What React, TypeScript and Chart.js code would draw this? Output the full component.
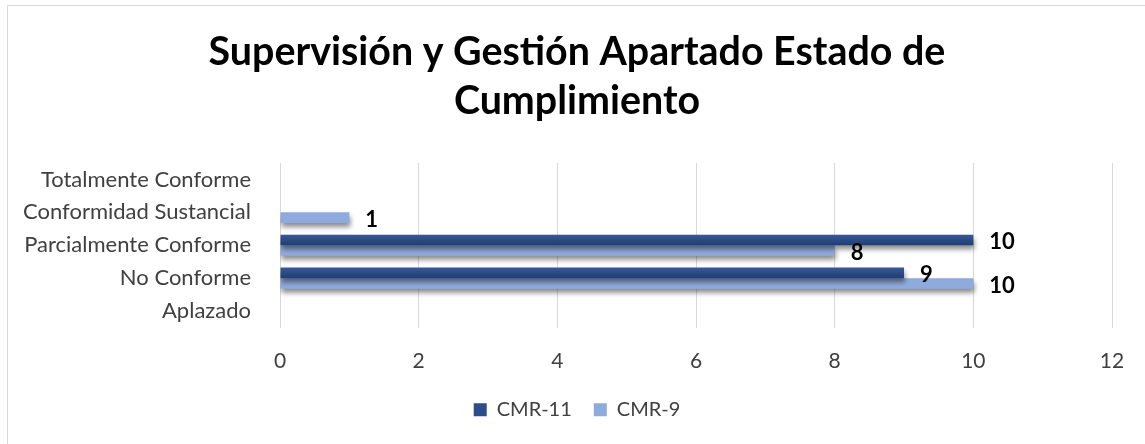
import React, { useEffect, useRef } from "react";
import Chart from "chart.js/auto";

const TITLE_LINES = ["Supervisión y Gestión Apartado Estado de", "Cumplimiento"];
const CATEGORIES = [
  "Totalmente Conforme",
  "Conformidad Sustancial",
  "Parcialmente Conforme",
  "No Conforme",
  "Aplazado",
];
const SERIES_NAMES = ["CMR-11", "CMR-9"];
const CMR11 = [0, 0, 10, 9, 0];
const CMR9 = [0, 1, 8, 10, 0];
const X_MIN = 0;
const X_MAX = 12;
const X_STEP = 2;

const DARK = "#2C4C8A";
const DARK_TOP = "#3A5A98";
const DARK_BOTTOM = "#1F3D74";
const LIGHT = "#8FAADC";
const FONT = "Lato, 'Open Sans', sans-serif";
const TEXT = "#404040";

const W = 1138;
const H = 439;

export default function App() {
  const ref = useRef<HTMLCanvasElement | null>(null);

  useEffect(() => {
    if (!ref.current) return;

    const darkFill = (c: any) => {
      const chart = c.chart;
      if (!chart.chartArea || c.type !== "data") return DARK;
      const center = chart.scales.y.getPixelForValue(c.dataIndex);
      const g = chart.ctx.createLinearGradient(0, center - 11, 0, center);
      g.addColorStop(0, DARK_TOP);
      g.addColorStop(1, DARK_BOTTOM);
      return g;
    };

    const fxPlugin = {
      id: "fx",
      beforeDatasetsDraw(chart: any) {
        const ctx = chart.ctx;
        ctx.save();
        ctx.shadowColor = "rgba(0,0,0,0.45)";
        ctx.shadowBlur = 5;
        ctx.shadowOffsetX = 1;
        ctx.shadowOffsetY = 4;
      },
      afterDatasetsDraw(chart: any) {
        const ctx = chart.ctx;
        ctx.restore();
        ctx.save();
        ctx.font = `bold 22px ${FONT}`;
        ctx.fillStyle = "#000000";
        ctx.textAlign = "left";
        ctx.textBaseline = "middle";
        chart.data.datasets.forEach((ds: any, di: number) => {
          const meta = chart.getDatasetMeta(di);
          meta.data.forEach((el: any, i: number) => {
            const v = ds.data[i];
            if (!v) return;
            ctx.fillText(String(v), el.x + 16, el.y + 2);
          });
        });
        ctx.restore();
      },
    };

    const chart = new Chart(ref.current, {
      type: "bar",
      data: {
        labels: CATEGORIES,
        datasets: [
          {
            label: SERIES_NAMES[0],
            data: CMR11,
            backgroundColor: darkFill,
            borderWidth: 0,
            barPercentage: 1,
            categoryPercentage: 0.64,
          },
          {
            label: SERIES_NAMES[1],
            data: CMR9,
            backgroundColor: LIGHT,
            borderWidth: 0,
            barPercentage: 1,
            categoryPercentage: 0.64,
          },
        ],
      },
      options: {
        indexAxis: "y",
        responsive: false,
        animation: false,
        layout: { padding: { left: 0, right: 0, top: 0, bottom: 15.3 } },
        scales: {
          x: {
            min: X_MIN,
            max: X_MAX,
            ticks: {
              stepSize: X_STEP,
              padding: 21,
              color: TEXT,
              font: { family: FONT, size: 21 },
            },
            grid: { color: "#D9D9D9", drawTicks: false, lineWidth: 1 },
            border: { display: false },
            afterFit: (s: any) => {
              s.height = 50.2;
            },
          },
          y: {
            ticks: {
              padding: 29,
              color: TEXT,
              font: { family: FONT, size: 22 },
            },
            grid: { display: false, drawTicks: false },
            border: { display: false },
            afterFit: (s: any) => {
              s.width = 272;
            },
          },
          yRightSpace: {
            type: "linear",
            position: "right",
            display: true,
            ticks: { display: false },
            grid: { display: false, drawTicks: false },
            border: { display: false },
            afterFit: (s: any) => {
              s.width = 34;
            },
          },
        },
        plugins: {
          title: {
            display: true,
            text: TITLE_LINES,
            color: "#000000",
            font: { family: FONT, size: 39.4, weight: "bold", lineHeight: "49px" },
            padding: { top: 22, bottom: 37 },
          },
          legend: {
            position: "bottom",
            labels: {
              boxWidth: 13,
              boxHeight: 13,
              padding: 22,
              color: TEXT,
              font: { family: FONT, size: 20 },
              generateLabels: (c: any) => {
                const items = Chart.defaults.plugins.legend.labels.generateLabels(c);
                items.forEach((it: any, i: number) => {
                  it.fillStyle = i === 0 ? DARK : LIGHT;
                  it.strokeStyle = "rgba(0,0,0,0)";
                  it.lineWidth = 0;
                });
                return items;
              },
            },
          },
          tooltip: { enabled: false },
        },
      },
      plugins: [fxPlugin],
    });

    return () => chart.destroy();
  }, []);

  return (
    <div
      style={{
        position: "absolute",
        left: 7,
        top: 5,
        width: W + 2,
        height: H + 2,
        border: "1px solid #D9D9D9",
        boxSizing: "border-box",
        background: "#fff",
      }}
    >
      <canvas ref={ref} width={W} height={H} style={{ display: "block" }} />
    </div>
  );
}
